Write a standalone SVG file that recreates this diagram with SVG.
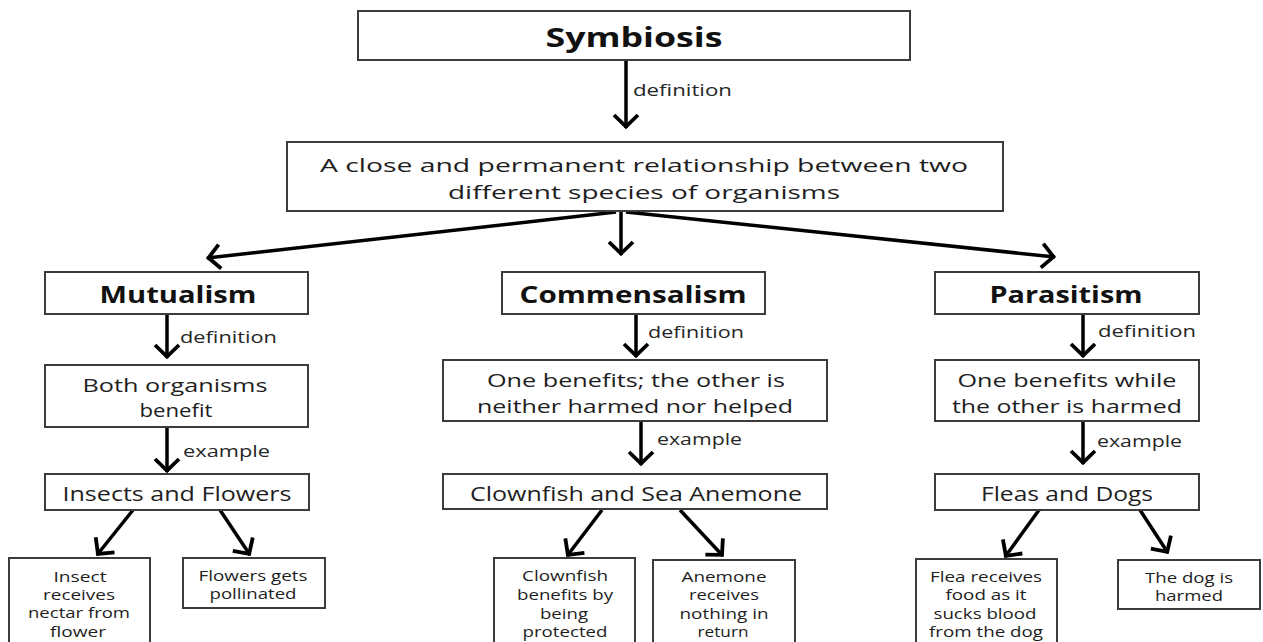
<svg xmlns="http://www.w3.org/2000/svg" width="1263" height="642" viewBox="0 0 1263 642">
  <style>
    .box { fill: #ffffff; stroke: #3c3c3c; stroke-width: 2; }
    .txt { font-family: "Open Sans", "Liberation Sans", sans-serif; fill: #1e1e1e; text-anchor: middle; }
    .head { font-weight: bold; fill: #111111; font-size: 23px; }
    .title { font-weight: bold; fill: #111111; font-size: 26px; }
    .main { font-size: 19px; }
    .ex { font-size: 19.5px; }
    .leaf { font-size: 14px; }
    .lbl { font-family: "Open Sans", "Liberation Sans", sans-serif; fill: #262626; font-size: 15.5px; }
    .link { fill: none; stroke: #000000; stroke-width: 3.5; marker-end: url(#head); }
  </style>
  <defs>
    <marker id="head" markerUnits="userSpaceOnUse" viewBox="-16 -14 18 28" refX="0" refY="0" markerWidth="18" markerHeight="28" orient="auto">
      <path d="M-13,-12 L-1.5,0 L-13,12" fill="none" stroke="#000000" stroke-width="3.8" stroke-linejoin="miter"/>
    </marker>
  </defs>

  <rect width="1263" height="642" fill="#ffffff"/>

  <!-- connectors -->
  <g id="connectors">
    <line class="link" x1="626" y1="60" x2="626" y2="128"/>
    <line class="link" x1="616" y1="212" x2="207" y2="258"/>
    <line class="link" x1="621" y1="211" x2="621" y2="255"/>
    <line class="link" x1="626" y1="212" x2="1055" y2="257"/>

    <line class="link" x1="167" y1="314" x2="167" y2="358"/>
    <line class="link" x1="167" y1="427" x2="167" y2="472"/>
    <line class="link" x1="133" y1="510" x2="97" y2="555"/>
    <line class="link" x1="220" y1="510" x2="250" y2="555"/>

    <line class="link" x1="636" y1="314" x2="636" y2="357"/>
    <line class="link" x1="641" y1="421" x2="641" y2="465"/>
    <line class="link" x1="602" y1="510" x2="567" y2="556"/>
    <line class="link" x1="680" y1="510" x2="723" y2="556"/>

    <line class="link" x1="1083" y1="314" x2="1083" y2="357"/>
    <line class="link" x1="1083" y1="421" x2="1083" y2="464"/>
    <line class="link" x1="1039" y1="510" x2="1005" y2="557"/>
    <line class="link" x1="1140" y1="510" x2="1168" y2="553"/>

    <text class="lbl" x="633" y="96" textLength="99" lengthAdjust="spacingAndGlyphs">definition</text>
    <text class="lbl" x="180" y="343" textLength="97" lengthAdjust="spacingAndGlyphs">definition</text>
    <text class="lbl" x="183" y="457" textLength="87" lengthAdjust="spacingAndGlyphs">example</text>
    <text class="lbl" x="648" y="338" textLength="96" lengthAdjust="spacingAndGlyphs">definition</text>
    <text class="lbl" x="657" y="445" textLength="85" lengthAdjust="spacingAndGlyphs">example</text>
    <text class="lbl" x="1098" y="337" textLength="98" lengthAdjust="spacingAndGlyphs">definition</text>
    <text class="lbl" x="1097" y="447" textLength="85" lengthAdjust="spacingAndGlyphs">example</text>
  </g>

  <!-- top -->
  <g id="symbiosis">
    <rect class="box" x="358" y="11" width="552" height="49"/>
    <text class="txt title" x="634" y="47" textLength="177" lengthAdjust="spacingAndGlyphs">Symbiosis</text>
  </g>
  <g id="definition-main">
    <rect class="box" x="287" y="142" width="716" height="69"/>
    <text class="txt main" x="644" y="172" textLength="648" lengthAdjust="spacingAndGlyphs">A close and permanent relationship between two</text>
    <text class="txt main" x="644" y="199" textLength="392" lengthAdjust="spacingAndGlyphs">different species of organisms</text>
  </g>

  <!-- mutualism branch -->
  <g id="mutualism">
    <rect class="box" x="45" y="272" width="263" height="42"/>
    <text class="txt head" x="178" y="303" textLength="157" lengthAdjust="spacingAndGlyphs">Mutualism</text>
  </g>
  <g id="mutualism-def">
    <rect class="box" x="45" y="365" width="263" height="62"/>
    <text class="txt main" x="175" y="392" textLength="185" lengthAdjust="spacingAndGlyphs">Both organisms</text>
    <text class="txt main" x="176" y="417" textLength="73" lengthAdjust="spacingAndGlyphs">benefit</text>
  </g>
  <g id="mutualism-example">
    <rect class="box" x="45" y="474" width="264" height="36"/>
    <text class="txt ex" x="177" y="501" textLength="229" lengthAdjust="spacingAndGlyphs">Insects and Flowers</text>
  </g>
  <g id="insect">
    <rect class="box" x="9" y="558" width="141" height="100"/>
    <text class="txt leaf" x="80" y="582" textLength="53" lengthAdjust="spacingAndGlyphs">Insect</text>
    <text class="txt leaf" x="79" y="600" textLength="72" lengthAdjust="spacingAndGlyphs">receives</text>
    <text class="txt leaf" x="79" y="618" textLength="102" lengthAdjust="spacingAndGlyphs">nectar from</text>
    <text class="txt leaf" x="78" y="637" textLength="56" lengthAdjust="spacingAndGlyphs">flower</text>
  </g>
  <g id="flower">
    <rect class="box" x="183" y="558" width="142" height="50"/>
    <text class="txt leaf" x="253" y="581" textLength="109" lengthAdjust="spacingAndGlyphs">Flowers gets</text>
    <text class="txt leaf" x="253" y="599" textLength="87" lengthAdjust="spacingAndGlyphs">pollinated</text>
  </g>

  <!-- commensalism branch -->
  <g id="commensalism">
    <rect class="box" x="502" y="272" width="263" height="42"/>
    <text class="txt head" x="633" y="303" textLength="227" lengthAdjust="spacingAndGlyphs">Commensalism</text>
  </g>
  <g id="commensalism-def">
    <rect class="box" x="443" y="360" width="384" height="61"/>
    <text class="txt main" x="636" y="387" textLength="298" lengthAdjust="spacingAndGlyphs">One benefits; the other is</text>
    <text class="txt main" x="635" y="413" textLength="316" lengthAdjust="spacingAndGlyphs">neither harmed nor helped</text>
  </g>
  <g id="commensalism-example">
    <rect class="box" x="443" y="474" width="384" height="35"/>
    <text class="txt ex" x="636" y="501" textLength="332" lengthAdjust="spacingAndGlyphs">Clownfish and Sea Anemone</text>
  </g>
  <g id="clownfish">
    <rect class="box" x="494" y="558" width="141" height="100"/>
    <text class="txt leaf" x="565" y="581" textLength="86" lengthAdjust="spacingAndGlyphs">Clownfish</text>
    <text class="txt leaf" x="565" y="600" textLength="96" lengthAdjust="spacingAndGlyphs">benefits by</text>
    <text class="txt leaf" x="564" y="619" textLength="48" lengthAdjust="spacingAndGlyphs">being</text>
    <text class="txt leaf" x="565" y="637" textLength="85" lengthAdjust="spacingAndGlyphs">protected</text>
  </g>
  <g id="anemone">
    <rect class="box" x="653" y="560" width="142" height="100"/>
    <text class="txt leaf" x="724" y="582" textLength="85" lengthAdjust="spacingAndGlyphs">Anemone</text>
    <text class="txt leaf" x="724" y="600" textLength="70" lengthAdjust="spacingAndGlyphs">receives</text>
    <text class="txt leaf" x="724" y="619" textLength="89" lengthAdjust="spacingAndGlyphs">nothing in</text>
    <text class="txt leaf" x="723" y="637" textLength="51" lengthAdjust="spacingAndGlyphs">return</text>
  </g>

  <!-- parasitism branch -->
  <g id="parasitism">
    <rect class="box" x="935" y="272" width="264" height="42"/>
    <text class="txt head" x="1066" y="303" textLength="153" lengthAdjust="spacingAndGlyphs">Parasitism</text>
  </g>
  <g id="parasitism-def">
    <rect class="box" x="935" y="360" width="264" height="61"/>
    <text class="txt main" x="1067" y="387" textLength="219" lengthAdjust="spacingAndGlyphs">One benefits while</text>
    <text class="txt main" x="1067" y="413" textLength="230" lengthAdjust="spacingAndGlyphs">the other is harmed</text>
  </g>
  <g id="parasitism-example">
    <rect class="box" x="935" y="474" width="264" height="36"/>
    <text class="txt ex" x="1067" y="501" textLength="172" lengthAdjust="spacingAndGlyphs">Fleas and Dogs</text>
  </g>
  <g id="flea">
    <rect class="box" x="916" y="559" width="141" height="100"/>
    <text class="txt leaf" x="986" y="582" textLength="112" lengthAdjust="spacingAndGlyphs">Flea receives</text>
    <text class="txt leaf" x="986" y="600" textLength="81" lengthAdjust="spacingAndGlyphs">food as it</text>
    <text class="txt leaf" x="985" y="619" textLength="103" lengthAdjust="spacingAndGlyphs">sucks blood</text>
    <text class="txt leaf" x="986" y="637" textLength="114" lengthAdjust="spacingAndGlyphs">from the dog</text>
  </g>
  <g id="dog">
    <rect class="box" x="1118" y="560" width="142" height="49"/>
    <text class="txt leaf" x="1189" y="583" textLength="88" lengthAdjust="spacingAndGlyphs">The dog is</text>
    <text class="txt leaf" x="1189" y="601" textLength="68" lengthAdjust="spacingAndGlyphs">harmed</text>
  </g>
</svg>
